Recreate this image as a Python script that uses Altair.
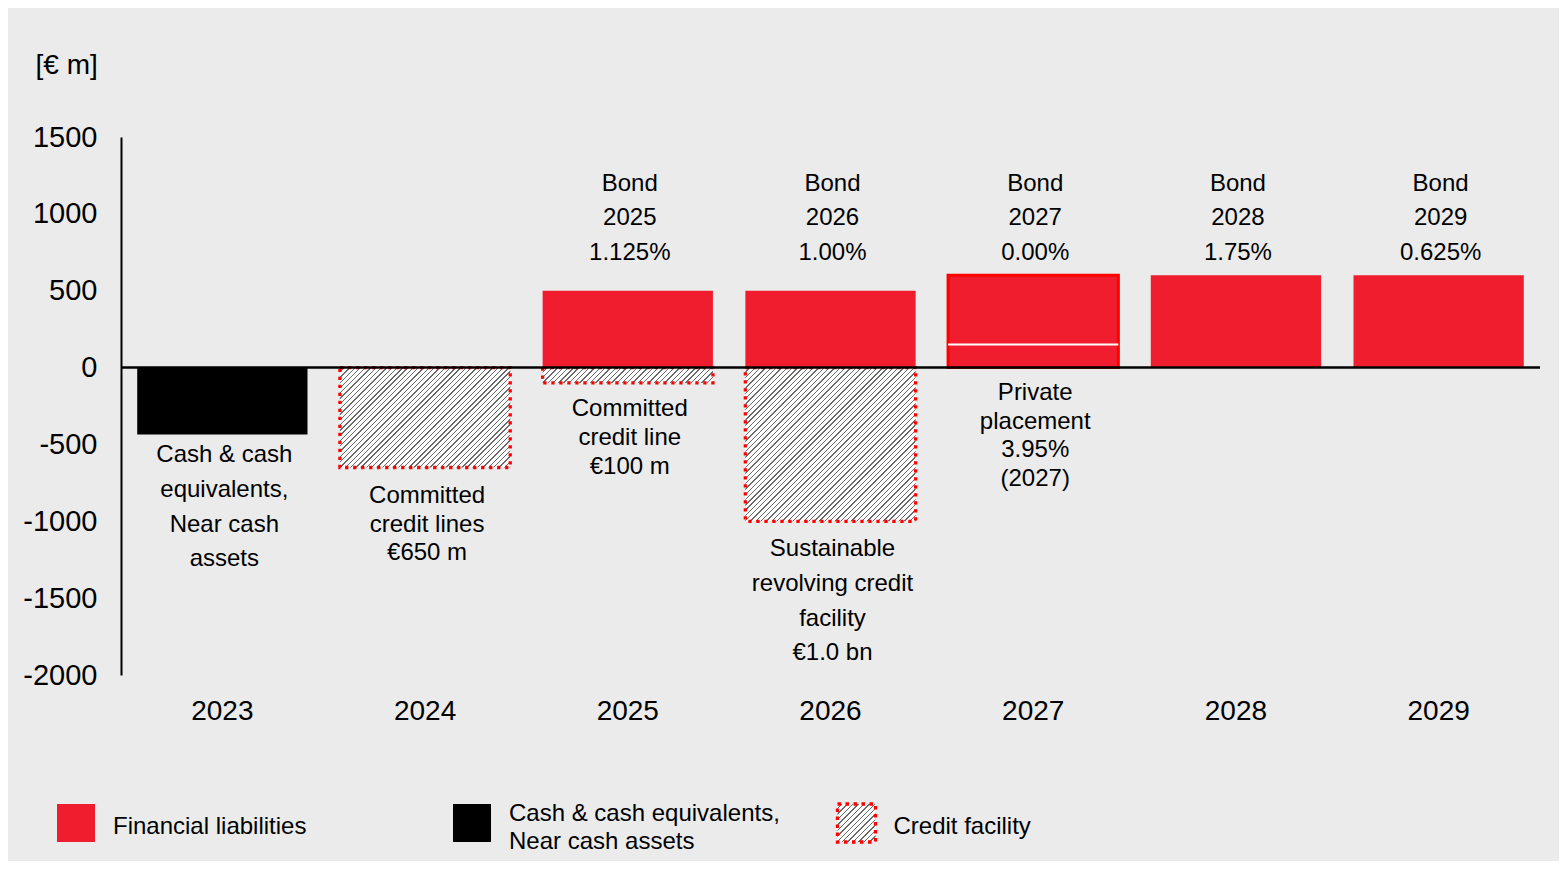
import altair as alt
import pandas as pd

FONT = "Liberation Sans"
RED = "#ef1d2d"
BRIGHT_RED = "#ff0000"
BG = "#ebebeb"

# ---------------- data (€ m) ----------------
years = ["2023", "2024", "2025", "2026", "2027", "2028", "2029"]

liab_years = ["2025", "2026", "2027", "2027", "2028", "2029"]
liab_segments = ["Bond 2025", "Bond 2026", "Private placement 2027", "Bond 2027", "Bond 2028", "Bond 2029"]
liab_values = [500, 500, 150, 450, 600, 600]

cash_years = ["2023"]
cash_values = [-435]

credit_years = ["2024", "2025", "2026"]
credit_values = [-650, -100, -1000]

top_label_years = ["2025", "2026", "2027", "2028", "2029"]
top_labels = ["Bond\n2025\n1.125%", "Bond\n2026\n1.00%", "Bond\n2027\n0.00%",
              "Bond\n2028\n1.75%", "Bond\n2029\n0.625%"]

bottom_label_years = ["2023", "2024", "2025", "2026", "2027"]
bottom_labels = ["Cash & cash\nequivalents,\nNear cash\nassets",
                 "Committed\ncredit lines\n€650 m",
                 "Committed\ncredit line\n€100 m",
                 "Sustainable\nrevolving credit\nfacility\n€1.0 bn",
                 "Private\nplacement\n3.95%\n(2027)"]

legend_items = ["Financial liabilities",
                "Cash & cash equivalents,\nNear cash assets",
                "Credit facility"]

y_ticks = [-2000, -1500, -1000, -500, 0, 500, 1000, 1500]
y_domain = [-2000, 1500]

# ---------------- layout / style ----------------
PLOT_W, PLOT_H = 1419, 538
PAD = {"left": 113, "top": 129, "right": 1551 - 113 - PLOT_W, "bottom": 853 - 129 - PLOT_H}
PAD_INNER = 0.16
step = PLOT_W / (len(years) - PAD_INNER + PAD_INNER)
band_w = step * (1 - PAD_INNER)
ppu = PLOT_H / (y_domain[1] - y_domain[0])


def hatch(w, h, period=5.3, ink=0.26, bg="#ffffff", fg="#6a6a6a"):
    n = max(1, round((w + h) / period))
    stops = []
    for i in range(n):
        a, b, c = i / n, (i + 1 - ink) / n, (i + 1) / n
        stops += [alt.GradientStop(offset=a, color=bg), alt.GradientStop(offset=b, color=bg),
                  alt.GradientStop(offset=b, color=fg), alt.GradientStop(offset=c, color=fg)]
    r = h / w
    k = (1 + r) / (1 + r * r)
    return alt.LinearGradient(gradient="linear", stops=stops, x1=0, y1=0, x2=k, y2=k * r)


# ---------------- tables ----------------
liab = pd.DataFrame({"year": liab_years, "segment": liab_segments, "value": liab_values})
liab["end"] = liab.groupby("year")["value"].cumsum()
liab["start"] = liab["end"] - liab["value"]
liab_tot = liab.groupby("year", as_index=False)["value"].sum()
liab_tot["zero"] = 0
multi = liab[liab.duplicated("year", keep=False)]
dividers = multi.groupby("year", as_index=False)["value"].first()

cash = pd.DataFrame({"year": cash_years, "value": cash_values})
cash["zero"] = 0
credit = pd.DataFrame({"year": credit_years, "value": credit_values})
credit["zero"] = 0

neg = pd.concat([cash, credit]).groupby("year")["value"].min()
top_df = pd.DataFrame({"year": top_label_years, "label": top_labels})
bot_df = pd.DataFrame({"year": bottom_label_years, "label": bottom_labels})
bot_df["anchor"] = [min(0, neg.get(y, 0)) for y in bottom_label_years]

leg_df = pd.DataFrame({"item": legend_items})

X = alt.X("year:N", scale=alt.Scale(domain=years, paddingInner=PAD_INNER, paddingOuter=PAD_INNER / 2),
          axis=alt.Axis(title=None, labelAngle=0, domain=False, ticks=False, labelPadding=22,
                        labelFontSize=28, labelColor="black", labelFont=FONT))
Y_AXIS = alt.Axis(values=y_ticks, labelExpr="'' + datum.value", grid=False, ticks=False,
                  domainColor="black", domainWidth=2, labelFontSize=29, labelColor="black",
                  labelFont=FONT, labelPadding=24, title="[€ m]", titleAngle=0, titleAlign="left",
                  titleBaseline="middle", titleX=-86, titleY=-72, titleFontSize=28,
                  titleFontWeight="normal", titleFont=FONT, titleColor="black")
Y_SCALE = alt.Scale(domain=y_domain, nice=False, zero=False)

layers = []
layers.append(alt.Chart(liab).mark_bar(color=RED).encode(
    x=X, y=alt.Y("start:Q", scale=Y_SCALE, axis=Y_AXIS), y2="end:Q"))
layers.append(alt.Chart(liab_tot[liab_tot["year"].isin(multi["year"])]).mark_bar(
    filled=False, stroke=BRIGHT_RED, strokeWidth=3).encode(
    x=X, y="zero:Q", y2="value:Q"))
layers.append(alt.Chart(dividers).mark_bar(stroke="white", strokeWidth=2, fillOpacity=0).encode(
    x=X, y="value:Q", y2="value:Q"))
layers.append(alt.Chart(cash).mark_bar(color="black").encode(
    x=X, y="zero:Q", y2="value:Q"))
for y, v in zip(credit_years, credit_values):
    layers.append(alt.Chart(credit[credit["year"] == y]).mark_bar(
        fill=hatch(band_w, abs(v) * ppu), stroke=BRIGHT_RED, strokeWidth=3.3,
        strokeDash=[3.3, 4.7]).encode(x=X, y="zero:Q", y2="value:Q"))
layers.append(alt.Chart(cash).mark_rule(color="black", strokeWidth=2.5).encode(
    y="zero:Q"))

TXT = dict(font=FONT, fontSize=24, color="black", align="center", baseline="top", lineBreak="\n")
layers.append(alt.Chart(top_df).mark_text(lineHeight=34.5, dx=2, **TXT).encode(
    x=X, y=alt.value(34.8), text="label:N"))

bot_style = {"2023": (9, 34.6), "2024": (16.6, 28.6), "2025": (14, 29),
             "2026": (16, 34.7), "2027": (13.4, 28.7)}
for y in bottom_label_years:
    dy, lh = bot_style[y]
    layers.append(alt.Chart(bot_df[bot_df["year"] == y]).mark_text(dy=dy, lineHeight=lh, dx=2, **TXT).encode(
        x=X, y="anchor:Q", text="label:N"))

# ---------------- legend (one entry per item) ----------------
LEG_X = [-45, 351, 735.5]
LEG_Y = 686
leg_fills = [dict(fill=RED), dict(fill="black"),
             dict(fill=hatch(38, 38), stroke=BRIGHT_RED, strokeWidth=3.3, strokeDash=[3.5, 4.5])]
for item, lx, style in zip(legend_items, LEG_X, leg_fills):
    sub = leg_df[leg_df["item"] == item]
    n = item.count("\n") + 1
    layers.append(alt.Chart(sub).mark_square(size=1444, opacity=1, **style).encode(
        x=alt.value(lx), y=alt.value(LEG_Y)))
    layers.append(alt.Chart(sub).mark_text(
        font=FONT, fontSize=24, color="black", align="left", baseline="top", lineBreak="\n",
        lineHeight=28, dx=37, dy=-8 - (n - 1) * 13).encode(
        x=alt.value(lx), y=alt.value(LEG_Y), text="item:N"))

chart = alt.layer(*layers).properties(
    width=PLOT_W, height=PLOT_H, padding=PAD,
    autosize=alt.AutoSizeParams(type="none"), background=BG,
).configure_view(stroke=None)

chart.save("out.html", embed_options={"renderer": "svg", "actions": False})
